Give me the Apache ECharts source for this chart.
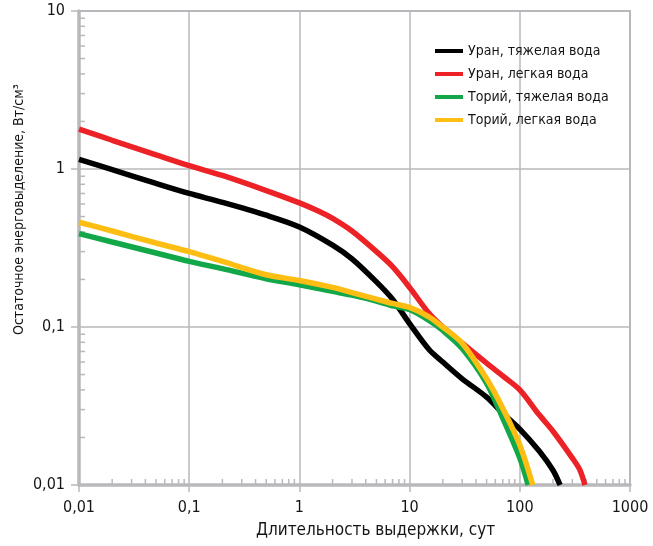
<!DOCTYPE html>
<html>
<head>
<meta charset="utf-8">
<script src="https://cdn.jsdelivr.net/npm/echarts@6/dist/echarts.min.js"></script>
<style>
html, body { margin: 0; padding: 0; background: #fff; }
#main { width: 653px; height: 546px; }
</style>
</head>
<body>
<div id="main"></div>
<script>
// данные (x — сутки, y — Вт/см3)
var seriesNames = ['Уран, тяжелая вода', 'Уран, легкая вода', 'Торий, тяжелая вода', 'Торий, легкая вода'];
var seriesColors = ['#000000', '#ec2227', '#12a84a', '#fdbd13'];

var uranHeavy = [[0.01, 1.15], [0.02, 0.99], [0.05, 0.81], [0.1, 0.70], [0.2, 0.615], [0.5, 0.51], [1, 0.43],
    [2, 0.33], [3, 0.27], [5, 0.193], [7, 0.15], [10, 0.105], [15, 0.072], [20, 0.06], [30, 0.047],
    [50, 0.036], [70, 0.0285], [100, 0.0226], [150, 0.0164], [200, 0.0124], [232, 0.01]];
var uranLight = [[0.01, 1.79], [0.02, 1.52], [0.05, 1.23], [0.1, 1.05], [0.2, 0.91], [0.5, 0.73], [1, 0.61],
    [1.5, 0.54], [2, 0.487], [3, 0.405], [5, 0.30], [7, 0.241], [10, 0.178], [15, 0.122], [20, 0.10], [30, 0.079],
    [50, 0.059], [70, 0.049], [100, 0.040], [150, 0.0278], [200, 0.0219], [300, 0.0148], [350, 0.0125], [390, 0.01]];
var thoriumHeavy = [[0.01, 0.39], [0.02, 0.345], [0.05, 0.294], [0.1, 0.26], [0.2, 0.234], [0.5, 0.202], [1, 0.185],
    [2, 0.168], [3, 0.159], [5, 0.146], [7, 0.136], [10, 0.129], [15, 0.11], [20, 0.095], [30, 0.073],
    [50, 0.044], [70, 0.0265], [100, 0.0148], [119, 0.01]];
var thoriumLight = [[0.01, 0.46], [0.02, 0.405], [0.05, 0.34], [0.1, 0.30], [0.2, 0.26], [0.5, 0.214], [1, 0.197],
    [2, 0.178], [3, 0.165], [5, 0.15], [7, 0.141], [10, 0.133], [15, 0.116], [20, 0.10], [30, 0.079],
    [50, 0.047], [70, 0.0306], [100, 0.0179], [131, 0.01]];

var xDecades = [0.01, 0.1, 1, 10, 100];
var yDecades = [0.01, 0.1, 1];
var minorSteps = [2, 3, 4, 5, 6, 7, 8, 9];

var fontFamily = "'DejaVu Sans Condensed', 'Liberation Sans Narrow', sans-serif";
var gridColor = '#b9b9bd';
var textColor = '#151515';

// вспомогательные штрихи логарифмической шкалы
var xMinor = [];
xDecades.forEach(function (d) { minorSteps.forEach(function (k) { xMinor.push([d * k, 0.01]); }); });
var yMinor = [];
yDecades.forEach(function (d) { minorSteps.forEach(function (k) { yMinor.push([0.01, d * k]); }); });

function fmt(v) {
    return String(v).replace('.', ',');
}

var chart = echarts.init(document.getElementById('main'));

var lineSeries = [uranHeavy, uranLight, thoriumHeavy, thoriumLight].map(function (d, i) {
    return {
        name: seriesNames[i],
        type: 'line',
        data: d,
        smooth: 0.3,
        showSymbol: false,
        symbol: 'none',
        z: 3 + i,
        lineStyle: { color: seriesColors[i], width: 5.5, cap: 'butt' },
        itemStyle: { color: seriesColors[i] }
    };
});

function tickSeries(data, vertical) {
    return {
        type: 'custom',
        silent: true,
        clip: false,
        z: 2,
        data: data,
        renderItem: function (params, api) {
            var p = api.coord([api.value(0), api.value(1)]);
            return {
                type: 'line',
                shape: vertical
                    ? { x1: p[0], y1: p[1], x2: p[0], y2: p[1] - 6 }
                    : { x1: p[0], y1: p[1], x2: p[0] + 6, y2: p[1] },
                style: { stroke: gridColor, lineWidth: 1.5 }
            };
        }
    };
}

var option = {
    animation: false,
    backgroundColor: '#ffffff',
    grid: {
        left: 79, right: 23, top: 11, bottom: 61,
        show: true, borderColor: gridColor, borderWidth: 2
    },
    legend: {
        orient: 'vertical',
        left: 435,
        top: 43,
        padding: 0,
        itemWidth: 28,
        itemHeight: 4,
        itemGap: 7,
        icon: 'rect',
        data: seriesNames,
        textStyle: { fontFamily: fontFamily, fontSize: 14, color: textColor, lineHeight: 16 }
    },
    xAxis: {
        type: 'log',
        logBase: 10,
        min: 0.01,
        max: 1000,
        axisLine: { lineStyle: { color: gridColor, width: 3.5 } },
        axisTick: { show: true, length: 7, lineStyle: { color: gridColor, width: 1.5 } },
        axisLabel: { margin: 15, fontFamily: fontFamily, fontSize: 16, color: textColor, formatter: fmt },
        splitLine: { show: true, lineStyle: { color: gridColor, width: 1.5 } },
        minorTick: { show: false }
    },
    yAxis: {
        type: 'log',
        logBase: 10,
        min: 0.01,
        max: 10,
        axisLine: { lineStyle: { color: gridColor, width: 3.5 } },
        axisTick: { show: true, length: 8, lineStyle: { color: gridColor, width: 1.5 } },
        axisLabel: { margin: 14, fontFamily: fontFamily, fontSize: 16, color: textColor, formatter: fmt },
        splitLine: { show: true, lineStyle: { color: gridColor, width: 1.5 } },
        minorTick: { show: false }
    },
    graphic: [
        {
            type: 'text',
            left: 256,
            top: 522,
            style: { text: 'Длительность выдержки, сут', font: '17px ' + fontFamily, fill: textColor }
        },
        {
            type: 'text',
            x: 12,
            y: 335,
            rotation: Math.PI / 2,
            style: { text: 'Остаточное энерговыделение, Вт/см³', font: '14px ' + fontFamily, fill: textColor }
        }
    ],
    series: [tickSeries(xMinor, true), tickSeries(yMinor, false)].concat(lineSeries)
};

chart.setOption(option);
</script>
</body>
</html>
